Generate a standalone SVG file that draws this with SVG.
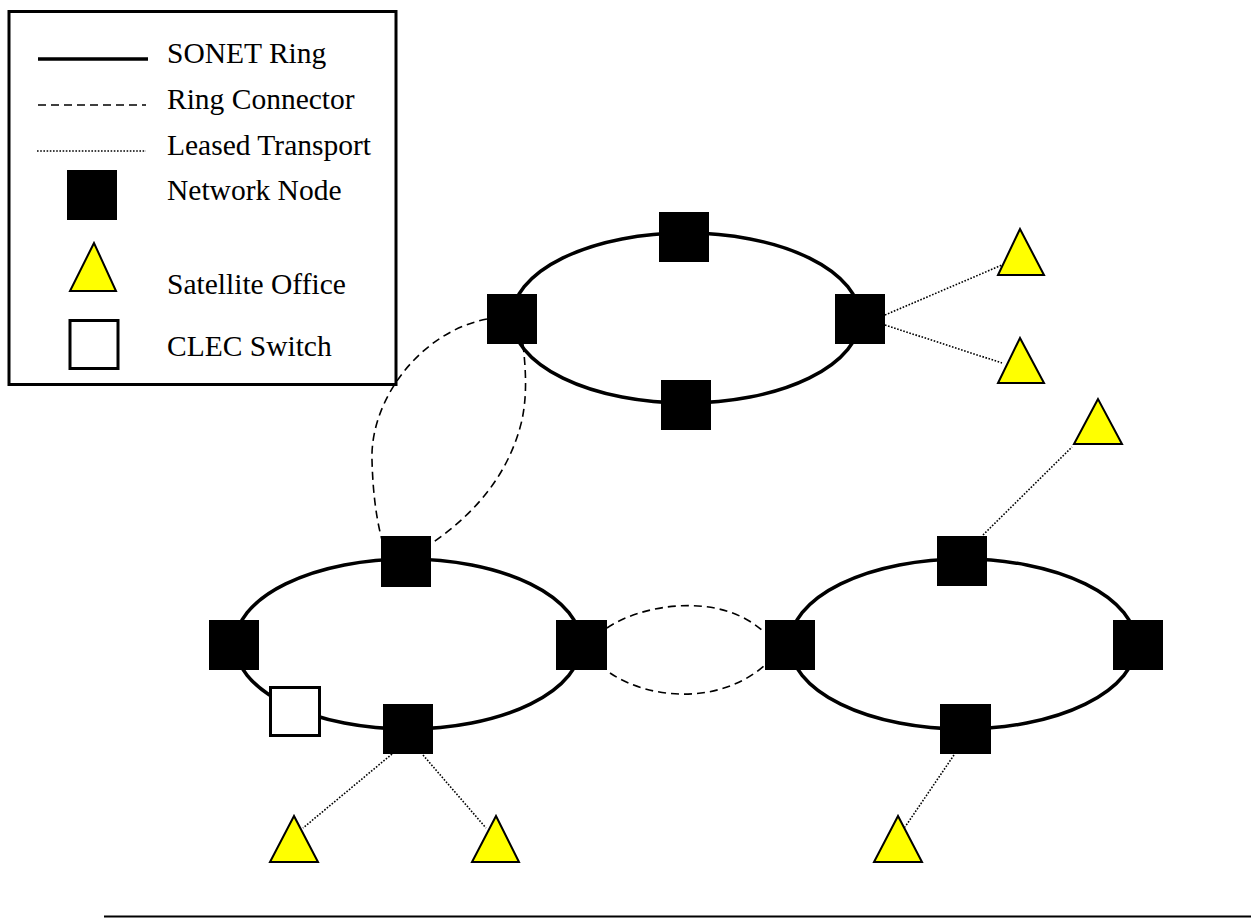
<svg xmlns="http://www.w3.org/2000/svg" width="1251" height="918" viewBox="0 0 1251 918">
<style>
.node{fill:#000}
.clec{fill:#fff;stroke:#000;stroke-width:3}
.sat{fill:#ff0;stroke:#000;stroke-width:2;stroke-linejoin:miter}
.ring{fill:none;stroke:#000;stroke-width:3.5}
.dash{fill:none;stroke:#000;stroke-width:1.6;stroke-dasharray:8 5}
.dot{fill:none;stroke:#000;stroke-width:1.6;stroke-dasharray:1.6 1.6}
.lbl{font-family:"Liberation Serif","Times New Roman",serif;font-size:29.5px;fill:#000}
</style>
<rect width="1251" height="918" fill="#fff"/>
<g id="legend">
<rect x="9" y="11.5" width="387" height="373" fill="#fff" stroke="#000" stroke-width="3"/>
<line x1="38" y1="59" x2="148" y2="59" stroke="#000" stroke-width="3.5"/>
<line x1="38" y1="105" x2="146" y2="105" class="dash"/>
<line x1="37" y1="151" x2="146" y2="151" class="dot"/>
<rect x="67" y="170" width="50" height="50" class="node"/>
<polygon points="94,243 70,291 116,291" class="sat"/>
<rect x="70" y="320.5" width="48" height="48" class="clec"/>
<text x="167" y="63" class="lbl">SONET Ring</text>
<text x="167" y="109" class="lbl">Ring Connector</text>
<text x="167" y="155" class="lbl">Leased Transport</text>
<text x="167" y="200" class="lbl">Network Node</text>
<text x="167" y="294" class="lbl">Satellite Office</text>
<text x="167" y="356" class="lbl">CLEC Switch</text>
</g>
<g id="rings">
<ellipse id="ring-top" cx="686" cy="318" rx="174" ry="85" class="ring"/>
<ellipse id="ring-left" cx="408" cy="644" rx="173" ry="85" class="ring"/>
<ellipse id="ring-right" cx="963" cy="644" rx="173" ry="85" class="ring"/>
</g>
<g id="connectors">
<path d="M487,319 C420,332 370,400 372,460 C373,500 378,525 382,540" class="dash"/>
<path d="M523,344 C527,380 526,400 522,420 C510,470 480,510 432,543" class="dash"/>
<path d="M607,628 C640,605 720,590 765,633" class="dash"/>
<path d="M610,673 C650,700 720,705 765,665" class="dash"/>
<line x1="885" y1="315" x2="1002" y2="265" class="dot"/>
<line x1="885" y1="325" x2="1002" y2="363" class="dot"/>
<line x1="983" y1="535" x2="1072" y2="447" class="dot"/>
<line x1="954" y1="755" x2="905" y2="827" class="dot"/>
<line x1="392" y1="754" x2="303" y2="828" class="dot"/>
<line x1="423" y1="755" x2="486" y2="828" class="dot"/>
</g>
<g id="n-top-top"><rect x="659" y="212" width="50" height="50" class="node"/></g>
<g id="n-top-left"><rect x="487" y="294" width="50" height="50" class="node"/></g>
<g id="n-top-right"><rect x="835" y="294" width="50" height="50" class="node"/></g>
<g id="n-top-bottom"><rect x="661" y="380" width="50" height="50" class="node"/></g>
<g id="n-left-top"><rect x="381" y="536" width="50" height="51" class="node"/></g>
<g id="n-left-left"><rect x="209" y="620" width="50" height="50" class="node"/></g>
<g id="n-left-right"><rect x="556" y="620" width="51" height="50" class="node"/></g>
<g id="n-left-bottom"><rect x="383" y="704" width="50" height="50" class="node"/></g>
<g id="clec"><rect x="270.5" y="687.5" width="49" height="48" class="clec"/></g>
<g id="n-right-top"><rect x="937" y="536" width="50" height="50" class="node"/></g>
<g id="n-right-left"><rect x="765" y="620" width="50" height="50" class="node"/></g>
<g id="n-right-right"><rect x="1113" y="620" width="50" height="50" class="node"/></g>
<g id="n-right-bottom"><rect x="940" y="704" width="51" height="50" class="node"/></g>
<g id="sat-1"><polygon points="1020,229 998,275 1044,275" class="sat"/></g>
<g id="sat-2"><polygon points="1020,338 998,383 1044,383" class="sat"/></g>
<g id="sat-3"><polygon points="1098,399 1074,444 1122,444" class="sat"/></g>
<g id="sat-4"><polygon points="294,816 270,862 318,862" class="sat"/></g>
<g id="sat-5"><polygon points="496,816 472,862 519,862" class="sat"/></g>
<g id="sat-6"><polygon points="898,816 874,862 922,862" class="sat"/></g>
<line x1="104" y1="916.5" x2="1251" y2="916.5" stroke="#000" stroke-width="2"/>
</svg>
